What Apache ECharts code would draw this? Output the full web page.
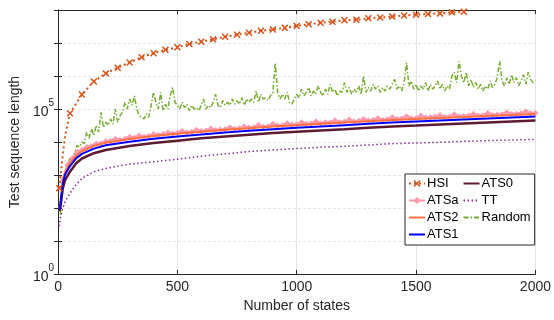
<!DOCTYPE html>
<html><head><meta charset="utf-8">
<script src="https://cdn.jsdelivr.net/npm/echarts@6/dist/echarts.min.js"></script>
<style>html,body{margin:0;padding:0;background:#fff}#c{width:554px;height:320px}</style>
</head><body><div id="c"></div>
<script>
const xTicks = [0, 500, 1000, 1500, 2000];
const yLabelExps = [0, 5];
const statesSmooth = [5,10,20,30,50,75,100,150,200,300,400,500,600,700,800,900,1000,1100,1200,1300,1400,1500,1600,1700,1800,1900,2000];
const ats0 = [80,110,400,710,1260,2240,3160,4570,5750,7590,9330,11000,12900,14800,16600,18600,20400,22400,24500,26900,29500,31600,33900,36300,38900,41700,44700];
const ats1 = [90,126,562,1050,1860,3160,4370,6310,7940,10200,12600,14800,17000,19500,21900,24500,26900,29500,32400,35500,38900,41700,44700,47900,51300,55000,58900];
const ats2 = [100,141,676,1260,2240,3800,5250,7590,9550,12300,15100,17800,20400,23400,26300,29500,32400,35500,38900,42700,46800,50100,53700,57500,61700,66100,70800];
const tt = [28,50,100,160,280,500,790,1260,1580,2140,2510,3020,3720,4370,5130,5750,6310,6920,7410,8130,8910,9330,9770,10500,11000,11500,12000];

const hsiStates = [5,20,30,40,50,100,150,200,250,300,350,400,450,500,550,600,650,700,750,800,850,900,950,1000,1050,1100,1150,1200,1250,1300,1350,1400,1450,1500,1550,1600,1650,1700];
const hsi = [400,4000,16000,35000,74000,275000,680000,1.2e6,1.78e6,2.57e6,3.7e6,4.9e6,6.2e6,7.4e6,9.3e6,1.1e7,1.29e7,1.55e7,1.78e7,2.04e7,2.34e7,2.57e7,2.88e7,3.3e7,3.7e7,4.1e7,4.4e7,4.9e7,5.1e7,5.6e7,5.9e7,6.3e7,6.8e7,7.2e7,7.6e7,7.9e7,8.5e7,8.9e7];
const hsiMarked = [1,0,0,0,1,1,1,1,1,1,1,1,1,1,1,1,1,1,1,1,1,1,1,1,1,1,1,1,1,1,1,1,1,1,1,1,1,1];

// ATSa: states 20..2000 step 20
const atsa = [710,2.0e3,3.2e3,5.0e3,5.8e3,7.1e3,7.6e3,8.9e3,9.1e3,1.05e4,
1.07e4,1.26e4,1.17e4,1.26e4,1.45e4,1.35e4,1.58e4,1.45e4,1.51e4,1.74e4,
1.62e4,1.74e4,1.95e4,1.82e4,1.91e4,2.14e4,1.95e4,2.04e4,2.34e4,2.14e4,
2.24e4,2.57e4,2.29e4,2.4e4,2.45e4,2.82e4,2.51e4,2.63e4,2.95e4,2.75e4,
2.82e4,3.31e4,2.88e4,3.02e4,3.55e4,3.16e4,3.24e4,3.72e4,3.31e4,3.47e4,
3.98e4,3.55e4,3.63e4,4.27e4,3.72e4,3.98e4,3.89e4,4.57e4,3.98e4,4.17e4,
4.79e4,4.17e4,4.37e4,5.01e4,4.47e4,4.68e4,5.25e4,4.68e4,4.9e4,5.62e4,
5.01e4,5.13e4,6.03e4,5.25e4,5.37e4,6.31e4,5.5e4,5.62e4,5.89e4,6.61e4,
5.75e4,5.89e4,6.92e4,6.03e4,6.17e4,6.31e4,7.24e4,6.31e4,6.46e4,7.59e4,
6.61e4,6.76e4,6.92e4,7.94e4,7.08e4,7.24e4,7.41e4,8.51e4,7.41e4,7.59e4];

// Random: states 10..2000 step 10
const rnd = [63,400,1.0e3,2.0e3,3.2e3,2.8e3,5.0e3,7.9e3,7.1e3,1.0e4,
8.9e3,2.0e4,1.3e4,2.5e4,1.6e4,3.2e4,2.0e4,7.9e4,2.8e4,4.0e4,
3.2e4,5.0e4,3.5e4,1.0e5,4.0e4,6.3e4,7.9e4,1.6e5,1.0e5,2.0e5,
1.3e5,2.5e5,1.0e5,6.3e4,5.6e4,5.0e4,7.1e4,5.6e4,1.3e5,3.2e5,
1.6e5,1.0e5,3.2e5,8.9e4,1.4e5,1.0e5,2.5e5,4.5e5,1.6e5,1.3e5,
1.0e5,1.6e5,1.1e5,1.4e5,8.9e4,1.3e5,1.0e5,1.1e5,8.9e4,1.3e5,
2.0e5,1.0e5,1.3e5,1.1e5,1.6e5,2.8e5,1.3e5,1.1e5,1.8e5,1.3e5,
1.6e5,1.3e5,2.0e5,1.4e5,1.8e5,1.4e5,2.2e5,1.3e5,2.0e5,1.6e5,
2.0e5,1.6e5,3.5e5,1.6e5,2.8e5,2.0e5,2.2e5,1.8e5,2.5e5,3.2e5,
2.5e6,3.2e5,2.0e5,2.8e5,2.0e5,3.2e5,1.6e5,1.4e5,2.0e5,2.8e5,
2.2e5,4.0e5,2.5e5,3.2e5,4.5e5,2.5e5,3.5e5,2.8e5,5.0e5,3.2e5,
2.5e5,4.0e5,2.8e5,5.6e5,3.2e5,4.0e5,2.5e5,3.5e5,3.2e5,6.3e5,
3.2e5,4.5e5,2.8e5,4.0e5,3.2e5,5.0e5,2.8e5,1.0e6,3.2e5,4.5e5,
3.5e5,5.6e5,4.0e5,5.0e5,3.2e5,4.5e5,3.5e5,5.0e5,4.0e5,5.6e5,
7.9e5,4.0e5,5.0e5,3.5e5,6.3e5,2.5e6,5.0e5,7.1e5,4.0e5,5.6e5,
3.5e5,5.0e5,4.0e5,6.3e5,3.5e5,5.6e5,4.0e5,5.0e5,7.1e5,4.0e5,
5.6e5,3.5e5,5.0e5,4.0e5,1.0e6,1.3e6,6.3e5,2.8e6,1.0e6,6.3e5,
1.3e6,5.0e5,7.9e5,4.5e5,6.3e5,4.0e5,5.6e5,3.5e5,5.0e5,4.0e5,
7.1e5,4.5e5,5.6e5,8.9e5,2.8e6,7.1e5,5.0e5,8.9e5,5.6e5,1.1e6,
6.3e5,8.9e5,5.0e5,7.1e5,1.1e6,5.6e5,1.3e6,7.9e5,6.3e5,7.1e5];

const atsaStates = atsa.map((_, i) => 20 * (i + 1));
const rndStates = rnd.map((_, i) => 10 * (i + 1));
const pair = (xs, ys) => ys.map((y, i) => [xs[i], y]);

const FONT = 'Liberation Sans';
const TXT = '#262626';
const xPath = 'path://M0,1.5 L1.5,0 L5,3.5 L8.5,0 L10,1.5 L6.5,5 L10,8.5 L8.5,10 L5,6.5 L1.5,10 L0,8.5 L3.5,5 Z';
const noSym = {opacity: 0};

const chart = echarts.init(document.getElementById('c'), null, {renderer: 'canvas'});
chart.setOption({
  animation: false,
  backgroundColor: '#fff',
  textStyle: {fontFamily: FONT},
  grid: {left: 57, right: 17, top: 10, bottom: 46, containLabel: false},
  legend: {
    data: [
      {name: 'HSI'}, {name: 'ATSa'},
      {name: 'ATS2', itemStyle: noSym}, {name: 'ATS1', itemStyle: noSym},
      {name: 'ATS0', itemStyle: noSym}, {name: 'TT', itemStyle: noSym},
      {name: 'Random', itemStyle: noSym}
    ],
    orient: 'vertical', left: 405, top: 174, height: 72, width: 130,
    itemGap: 4, itemWidth: 16, itemHeight: 9,
    padding: [3, 4, 4, 3],
    backgroundColor: '#fff', borderColor: '#262626', borderWidth: 1, borderRadius: 0,
    textStyle: {fontFamily: FONT, fontSize: 13, color: '#000', padding: [0,0,0,-3]}
  },
  xAxis: [{
    type: 'value', min: 0, max: 2000, interval: 500, position: 'bottom',
    name: 'Number of states', nameLocation: 'middle', nameGap: 25,
    nameTextStyle: {fontFamily: FONT, fontSize: 14, color: TXT},
    axisLine: {show: true, lineStyle: {color: '#262626', width: 1}},
    axisTick: {show: true, inside: true, length: 4, lineStyle: {color: '#262626'}},
    axisLabel: {fontFamily: FONT, fontSize: 14, color: TXT, margin: 6,
      formatter: v => xTicks.includes(v) ? String(v) : ''},
    splitLine: {show: true, lineStyle: {color: '#e3e3e3', width: 1}}
  }, {
    type: 'value', min: 0, max: 2000, interval: 500, position: 'top',
    axisLine: {show: true, lineStyle: {color: '#262626', width: 1}},
    axisTick: {show: true, inside: true, length: 4, lineStyle: {color: '#262626'}},
    axisLabel: {show: false}, splitLine: {show: false}
  }],
  yAxis: [{
    type: 'log', logBase: 10, min: 1, max: 1e8, interval: 1, position: 'left',
    name: 'Test sequence length', nameLocation: 'middle', nameGap: 34, nameRotate: 90,
    nameTextStyle: {fontFamily: FONT, fontSize: 14, color: TXT},
    axisLine: {show: true, lineStyle: {color: '#262626', width: 1}},
    axisTick: {show: true, inside: true, length: 4, lineStyle: {color: '#262626'}},
    axisLabel: {
      margin: 4,
      formatter: v => {
        const e = Math.round(Math.log10(v));
        return yLabelExps.includes(e) ? '{b|10}{s|' + e + '}' : '';
      },
      rich: {
        b: {fontFamily: FONT, fontSize: 14, color: TXT, lineHeight: 21, verticalAlign: 'bottom'},
        s: {fontFamily: FONT, fontSize: 10, color: TXT, lineHeight: 12, verticalAlign: 'top'}
      }
    },
    splitLine: {show: true, lineStyle: {color: '#e6e6e6', width: 1, type: [3, 2]}}
  }, {
    type: 'log', logBase: 10, min: 1, max: 1e8, interval: 1, position: 'right',
    axisLine: {show: true, lineStyle: {color: '#262626', width: 1}},
    axisTick: {show: true, inside: true, length: 4, lineStyle: {color: '#262626'}},
    axisLabel: {show: false}, splitLine: {show: false}
  }],
  series: [
    {name: 'Random', type: 'line', data: pair(rndStates, rnd), showSymbol: false, symbol: 'none',
     color: '#77AC30', lineStyle: {color: '#77AC30', width: 1.5, type: [5, 2, 1.5, 2]}, z: 2},
    {name: 'TT', type: 'line', data: pair(statesSmooth, tt), symbol: 'none',
     color: '#7E2F8E', lineStyle: {color: '#7E2F8E', width: 1.5, type: [1.5, 2.5]}, z: 3},
    {name: 'ATSa', type: 'line', data: pair(atsaStates, atsa), symbol: 'diamond', symbolSize: 6, showSymbol: true,
     color: '#FF9AAE', itemStyle: {color: '#FF9AAE'}, lineStyle: {color: '#FF9AAE', width: 2.5}, z: 4},
    {name: 'ATS2', type: 'line', data: pair(statesSmooth, ats2), symbol: 'none',
     color: '#FF7040', lineStyle: {color: '#FF7040', width: 2}, z: 5},
    {name: 'ATS0', type: 'line', data: pair(statesSmooth, ats0), symbol: 'none',
     color: '#5E1A30', lineStyle: {color: '#5E1A30', width: 2.5}, z: 5},
    {name: 'ATS1', type: 'line', data: pair(statesSmooth, ats1), symbol: 'none',
     color: '#0000FF', lineStyle: {color: '#0000FF', width: 2}, z: 6},
    {name: 'HSI', type: 'line', symbol: xPath, symbolSize: 7, showSymbol: true,
     data: hsi.map((y, i) => ({value: [hsiStates[i], y], symbol: hsiMarked[i] ? xPath : 'none'})),
     color: '#D95319', itemStyle: {color: '#D95319'}, lineStyle: {color: '#D95319', width: 2, type: [2, 3]}, z: 7}
  ]
});
</script></body></html>
